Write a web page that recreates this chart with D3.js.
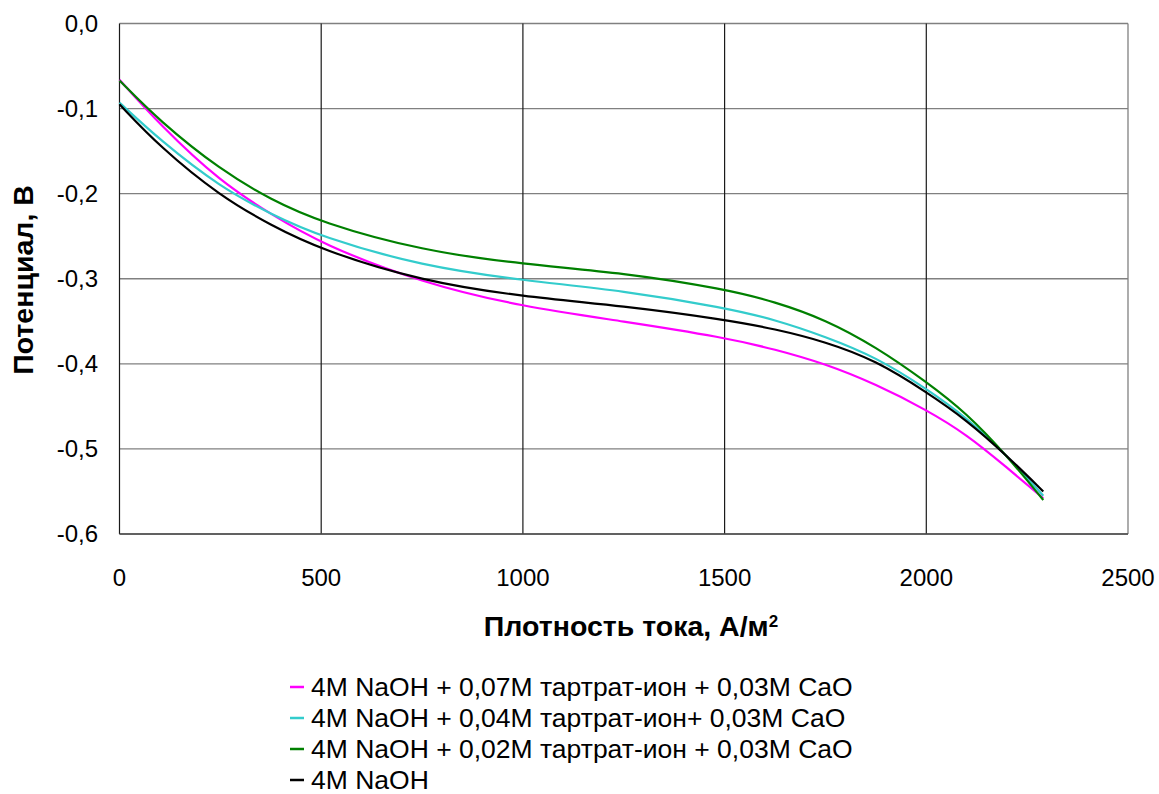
<!DOCTYPE html>
<meta charset="utf-8">
<head>
    <title>Потенциал vs плотность тока</title>
    <script src="https://d3js.org/d3.v7.min.js"></script>
</head>
<style type="text/css">
body{
    margin: 0;
    background: #FFFFFF;
}
svg text{
    font-family: "Liberation Sans", Arial, sans-serif;
    fill: #000;
}
</style>
<body>
    <svg id="chart" width="1159" height="794"></svg>

    <script type="text/javascript">
        // current density, A/m2
        var density = [0, 100, 250, 375, 500, 750, 1000, 1250, 1500, 1625, 1750, 1875, 2000, 2100, 2200, 2290];

        // potential, V
        var tartrate07 = [-0.066, -0.119, -0.186, -0.224, -0.259, -0.305, -0.333, -0.350, -0.369, -0.383, -0.400, -0.424, -0.454, -0.483, -0.522, -0.558];
        var tartrate04 = [-0.093, -0.137, -0.1925, -0.224, -0.251, -0.285, -0.302, -0.314, -0.334, -0.348, -0.368, -0.392, -0.429, -0.463, -0.508, -0.555];
        var tartrate02 = [-0.067, -0.115, -0.172, -0.207, -0.234, -0.267, -0.283, -0.293, -0.312, -0.327, -0.348, -0.380, -0.421, -0.458, -0.508, -0.560];
        var naohOnly   = [-0.095, -0.145, -0.203, -0.237, -0.266, -0.303, -0.321, -0.332, -0.348, -0.359, -0.374, -0.396, -0.433, -0.466, -0.508, -0.550];

        var seriesNames = [
            "4M NaOH + 0,07M тартрат-ион + 0,03M CaO",
            "4M NaOH + 0,04M тартрат-ион+ 0,03M CaO",
            "4M NaOH + 0,02M тартрат-ион + 0,03M CaO",
            "4M NaOH"
        ];
        var seriesColors = ["#FF00FF", "#33CCCC", "#008000", "#000000"];
        var seriesValues = [tartrate07, tartrate04, tartrate02, naohOnly];

        var xTicks = [0, 500, 1000, 1500, 2000, 2500];
        var yTicks = [0, -0.1, -0.2, -0.3, -0.4, -0.5, -0.6];

        var svg = d3.select("#chart");
        var plotLeft = 119.5, plotRight = 1128, plotTop = 23.5, plotBottom = 534;

        var x = d3.scaleLinear().domain([0, 2500]).range([plotLeft, plotRight]);
        var y = d3.scaleLinear().domain([-0.6, 0]).range([plotBottom, plotTop]);
        var fmt = function(d) { return d3.format(".1f")(d).replace(".", ",").replace("−", "-"); };

        // gridlines
        svg.append("g").selectAll("line").data(yTicks).enter().append("line")
            .attr("x1", plotLeft).attr("x2", plotRight)
            .attr("y1", function(d) { return y(d); })
            .attr("y2", function(d) { return y(d); })
            .attr("stroke", "#808080").attr("stroke-width", 1.3);

        svg.append("g").selectAll("line").data(xTicks.slice(1, -1)).enter().append("line")
            .attr("x1", function(d) { return x(d); })
            .attr("x2", function(d) { return x(d); })
            .attr("y1", plotTop).attr("y2", plotBottom)
            .attr("stroke", "#1a1a1a").attr("stroke-width", 1.2);

        // frame: right edge grey, left and bottom axes dark
        svg.append("line").attr("x1", plotRight).attr("x2", plotRight).attr("y1", plotTop).attr("y2", plotBottom)
            .attr("stroke", "#808080").attr("stroke-width", 1.3);
        svg.append("line").attr("x1", plotLeft).attr("x2", plotLeft).attr("y1", plotTop).attr("y2", plotBottom)
            .attr("stroke", "#1a1a1a").attr("stroke-width", 1.2);
        svg.append("line").attr("x1", plotLeft).attr("x2", plotRight).attr("y1", plotBottom).attr("y2", plotBottom)
            .attr("stroke", "#4d4d4d").attr("stroke-width", 1.3);

        // tick labels
        svg.append("g").selectAll("text").data(yTicks).enter().append("text")
            .attr("x", 98)
            .attr("y", function(d) { return y(d); })
            .attr("dy", "0.35em")
            .attr("text-anchor", "end")
            .style("font-size", "24px")
            .text(fmt);

        svg.append("g").selectAll("text").data(xTicks).enter().append("text")
            .attr("x", function(d) { return x(d); })
            .attr("y", 578)
            .attr("dy", "0.35em")
            .attr("text-anchor", "middle")
            .style("font-size", "24px")
            .text(function(d) { return d; });

        // axis titles
        var xTitle = svg.append("text")
            .attr("x", 631).attr("y", 636)
            .attr("text-anchor", "middle")
            .style("font-size", "28.5px")
            .style("font-weight", "bold")
            .text("Плотность тока, А/м");
        xTitle.append("tspan")
            .attr("dy", "-0.55em")
            .style("font-size", "17px")
            .text("2");

        svg.append("text")
            .attr("transform", "translate(23," + 280 + ") rotate(-90)")
            .attr("dy", "0.35em")
            .attr("text-anchor", "middle")
            .style("font-size", "28.5px")
            .style("font-weight", "bold")
            .text("Потенциал, В");

        // curves
        var line = d3.line()
            .x(function(d) { return x(d[0]); })
            .y(function(d) { return y(d[1]); })
            .curve(d3.curveBasis);

        seriesValues.forEach(function(vals, i) {
            svg.append("path")
                .datum(density.map(function(c, j) { return [c, vals[j]]; }))
                .attr("fill", "none")
                .attr("stroke", seriesColors[i])
                .attr("stroke-width", 2.2)
                .attr("d", line);
        });

        // legend
        var legend = svg.append("g").attr("transform", "translate(290,687)");
        seriesNames.forEach(function(name, i) {
            var row = legend.append("g").attr("transform", "translate(0," + (i * 31) + ")");
            row.append("line")
                .attr("x1", 0).attr("x2", 14)
                .attr("y1", 0).attr("y2", 0)
                .attr("stroke", seriesColors[i]).attr("stroke-width", 2.5);
            row.append("text")
                .attr("x", 21).attr("y", 0)
                .attr("dy", "0.35em")
                .style("font-size", "26.5px")
                .text(name);
        });
    </script>
</body>
